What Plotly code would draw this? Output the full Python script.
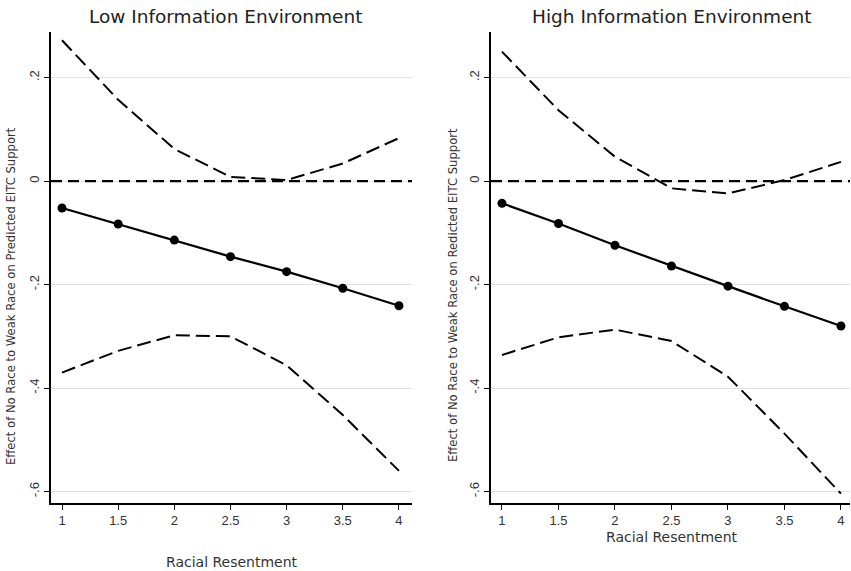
import plotly.graph_objects as go

# ---- data ----
racial_resentment = [1, 1.5, 2, 2.5, 3, 3.5, 4]

low_effect = [-0.052, -0.083, -0.114, -0.146, -0.175, -0.207, -0.241]
low_upper = [0.272, 0.157, 0.062, 0.008, 0.002, 0.034, 0.083]
low_lower = [-0.370, -0.328, -0.298, -0.300, -0.356, -0.452, -0.560]

high_effect = [-0.043, -0.082, -0.124, -0.164, -0.203, -0.242, -0.280]
high_upper = [0.250, 0.137, 0.047, -0.014, -0.024, 0.002, 0.037]
high_lower = [-0.336, -0.302, -0.287, -0.309, -0.378, -0.488, -0.604]

x_ticks = [1, 1.5, 2, 2.5, 3, 3.5, 4]
x_tick_labels = ["1", "1.5", "2", "2.5", "3", "3.5", "4"]
y_ticks = [0.2, 0, -0.2, -0.4, -0.6]
y_tick_labels = [".2", "0", "-.2", "-.4", "-.6"]

panel_titles = ["Low Information Environment", "High Information Environment"]
y_titles = ["Effect of No Race to Weak Race on Predicted EITC Support",
            "Effect of No Race to Weak Race on Redicted EITC Support"]
x_title = "Racial Resentment"

W, H = 851, 571
FONT = "Liberation Sans, Arial, sans-serif"
WIDE = "DejaVu Sans, Verdana, sans-serif"

fig = go.Figure()

panels = [
    ("x", "y", low_effect, low_upper, low_lower),
    ("x2", "y2", high_effect, high_upper, high_lower),
]
for xa, ya, eff, up, lo in panels:
    for ci in (up, lo):
        fig.add_trace(go.Scatter(
            x=racial_resentment, y=ci, xaxis=xa, yaxis=ya, mode="lines",
            line=dict(color="black", width=2, dash="14px,6px"),
            showlegend=False, hoverinfo="skip"))
    fig.add_trace(go.Scatter(
        x=racial_resentment, y=eff, xaxis=xa, yaxis=ya, mode="lines+markers",
        line=dict(color="black", width=2.2),
        marker=dict(color="black", size=9, symbol="circle"),
        showlegend=False))

# zero reference lines
for xa, ya in (("x", "y"), ("x2", "y2")):
    fig.add_shape(type="line", xref=f"{xa} domain", yref=ya,
                  x0=0, x1=1, y0=0, y1=0,
                  line=dict(color="black", width=2.2, dash="11px,6px"))

y_dom = [1 - 503 / H, 1 - 32 / H]
yaxis_common = dict(
    range=[-0.622, 0.288], tickvals=y_ticks, ticktext=y_tick_labels,
    tickangle=-90, showgrid=True, gridcolor="#e3e3e3", gridwidth=1,
    zeroline=False, showline=True, linecolor="black", linewidth=1.5,
    ticks="outside", ticklen=5, tickcolor="black", tickwidth=1.2,
    tickfont=dict(family=FONT, size=13, color="#333"), domain=y_dom,
    automargin=False,
)
xaxis_common = dict(
    tickvals=x_ticks, ticktext=x_tick_labels, showgrid=False, zeroline=False,
    showline=True, linecolor="black", linewidth=1.5, ticks="outside",
    ticklen=5, tickcolor="black", tickwidth=1.2,
    tickfont=dict(family=FONT, size=13, color="#333"), automargin=False,
)

fig.update_layout(
    width=W, height=H, margin=dict(l=0, r=0, t=0, b=0, autoexpand=False),
    plot_bgcolor="white", paper_bgcolor="white", showlegend=False,
    xaxis=dict(xaxis_common, domain=[51 / W, 412 / W], range=[0.902, 4.116], anchor="y"),
    yaxis=dict(yaxis_common, anchor="x"),
    xaxis2=dict(xaxis_common, domain=[491 / W, 850 / W], range=[0.903, 4.08], anchor="y2"),
    yaxis2=dict(yaxis_common, anchor="x2"),
)


def label(text, px, py, size, angle=0, color="#333", family=WIDE):
    return dict(text=text, x=px / W, y=1 - py / H, xref="paper", yref="paper",
                xanchor="center", yanchor="middle", showarrow=False,
                textangle=angle, font=dict(family=family, size=size, color=color))


ann = [
    label(panel_titles[0], 225, 16, 18.5, color="#222"),
    label(panel_titles[1], 672, 16, 18.5, color="#222"),
    label(y_titles[0], 11, 296, 11.6, angle=-90),
    label(y_titles[1], 453, 295, 11.6, angle=-90),
    label(x_title, 232, 562, 14),
    label(x_title, 672, 537, 14),
]
fig.update_layout(annotations=ann)

fig.write_html(
    "out.html",
    config={"displayModeBar": False},
    post_script="document.body.style.margin='0';document.body.style.overflow='hidden';",
)
